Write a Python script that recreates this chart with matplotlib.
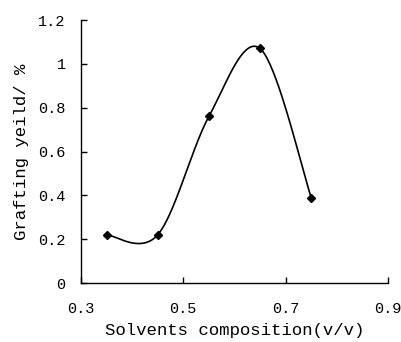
import numpy as np
import matplotlib
matplotlib.use('Agg')
import matplotlib.pyplot as plt

# solvent composition (v/v) vs grafting yield (%)
composition = [0.35, 0.45, 0.55, 0.65, 0.75]
grafting = [0.22, 0.22, 0.76, 1.07, 0.39]

x_ticks = [0.3, 0.5, 0.7, 0.9]
y_ticks = [0, 0.2, 0.4, 0.6, 0.8, 1.0, 1.2]
y_labels = ['0', '0.2', '0.4', '0.6', '0.8', '1', '1.2']


def smooth_curve(xs, ys, n=40):
    # excel-like smoothed line: bezier segments, control points from neighbours
    xs = np.asarray(xs, float)
    ys = np.asarray(ys, float)
    px = np.concatenate([[xs[0]], xs, [xs[-1]]])
    py = np.concatenate([[ys[0]], ys, [ys[-1]]])
    out_x, out_y = [], []
    t = np.linspace(0, 1, n)
    for i in range(1, len(px) - 2):
        p0 = np.array([px[i], py[i]])
        p3 = np.array([px[i + 1], py[i + 1]])
        p1 = p0 + (np.array([px[i + 1], py[i + 1]]) - np.array([px[i - 1], py[i - 1]])) / 6
        p2 = p3 - (np.array([px[i + 2], py[i + 2]]) - np.array([px[i], py[i]])) / 6
        b = ((1 - t) ** 3)[:, None] * p0 + (3 * (1 - t) ** 2 * t)[:, None] * p1 \
            + (3 * (1 - t) * t ** 2)[:, None] * p2 + (t ** 3)[:, None] * p3
        out_x.extend(b[:, 0])
        out_y.extend(b[:, 1])
    return out_x, out_y


plt.rcParams['font.family'] = ['Liberation Mono', 'DejaVu Sans Mono']

fig = plt.figure(figsize=(4.02, 3.42), dpi=100)
ax = fig.add_axes([0.2015, 0.1725, 0.7635, 0.769])

cx, cy = smooth_curve(composition, grafting)
ax.plot(cx, cy, color='black', lw=1.2)
ax.plot(composition, grafting, ls='none', marker='D', ms=4.5, color='black')

ax.set_xlim(0.3, 0.9)
ax.set_ylim(0, 1.2)
ax.set_xticks(x_ticks)
ax.set_xticklabels([str(v) for v in x_ticks])
ax.set_yticks(y_ticks)
ax.set_yticklabels(y_labels)
ax.tick_params(direction='in', length=4, width=1, labelsize=11)
ax.tick_params(axis='x', pad=14)
ax.tick_params(axis='y', pad=11)

for s in ['top', 'right']:
    ax.spines[s].set_visible(False)
for s in ['left', 'bottom']:
    ax.spines[s].set_linewidth(1)

ax.set_xlabel('Solvents composition(v/v)', fontsize=12.5, labelpad=5)
ax.set_ylabel('Grafting yeild/ %', fontsize=12.5, labelpad=7)

fig.savefig('out.png', dpi=100)
